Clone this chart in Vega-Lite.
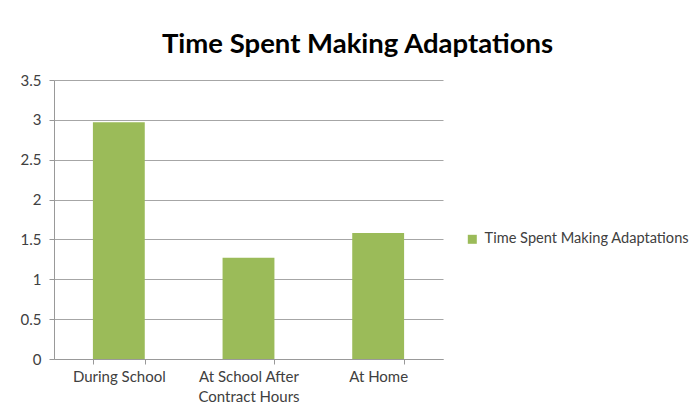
{
  "$schema": "https://vega.github.io/schema/vega-lite/v6.json",
  "autosize": "none",
  "width": 389,
  "height": 279,
  "padding": {"left": 54, "top": 80, "right": 252, "bottom": 54},
  "background": "white",
  "title": {
    "text": "Time Spent Making Adaptations",
    "font": "Lato",
    "fontSize": 27.5,
    "fontWeight": "bold",
    "color": "#000000",
    "anchor": "middle",
    "dx": 109,
    "offset": 15
  },
  "data": {
    "values": [
      {"category": "During School", "series": "Time Spent Making Adaptations", "value": 2.97},
      {"category": "At School After Contract Hours", "series": "Time Spent Making Adaptations", "value": 1.27},
      {"category": "At Home", "series": "Time Spent Making Adaptations", "value": 1.58}
    ]
  },
  "mark": {"type": "bar"},
  "encoding": {
    "x": {
      "field": "category",
      "type": "nominal",
      "sort": null,
      "scale": {"paddingInner": 0.6, "paddingOuter": 0.3},
      "axis": {
        "title": null,
        "labelAngle": 0,
        "tickBand": "extent",
        "tickSize": 5,
        "labelPadding": 5,
        "labelExpr": "datum.value == 'At School After Contract Hours' ? ['At School After', 'Contract Hours'] : datum.value",
        "labelLineHeight": 20
      }
    },
    "y": {
      "field": "value",
      "type": "quantitative",
      "scale": {"domain": [0, 3.5]},
      "axis": {
        "title": null,
        "values": [0, 0.5, 1, 1.5, 2, 2.5, 3, 3.5],
        "format": ".1~f",
        "tickSize": 5,
        "labelPadding": 8,
        "grid": true
      }
    },
    "color": {
      "field": "series",
      "type": "nominal",
      "scale": {"range": ["#9BBB59"]},
      "legend": {
        "title": null,
        "orient": "none",
        "legendX": 411,
        "legendY": 152,
        "padding": 0,
        "symbolType": "square",
        "symbolSize": 81,
        "symbolStrokeWidth": 0,
        "labelOffset": 5,
        "labelFont": "Lato",
        "labelFontSize": 14.6,
        "labelColor": "#404040",
        "labelLimit": 300
      }
    }
  },
  "config": {
    "view": {"stroke": null},
    "axis": {
      "labelFont": "Lato",
      "labelFontSize": 15,
      "labelColor": "#404040",
      "domainColor": "#999999",
      "tickColor": "#999999",
      "gridColor": "#a6a6a6",
      "domainWidth": 1,
      "gridWidth": 1
    }
  }
}
